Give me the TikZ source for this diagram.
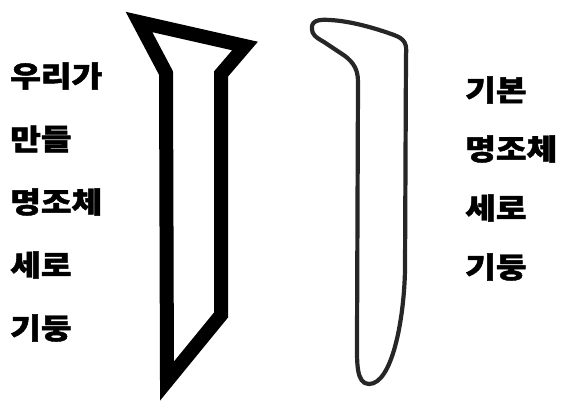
\documentclass[tikz,border=0pt]{standalone}
\usepackage{fontspec}
\newfontfamily\kr{Noto Sans CJK KR}[BoldFeatures={FakeBold=1.5}]
\begin{document}
\begin{tikzpicture}[
		x=1pt, y=-1pt,
		word/.style = {anchor=west, inner sep=0pt, xscale=1.15,% words beside the stems
			font=\kr\bfseries\fontsize{29}{29}\selectfont},
		bold stem/.style = {line width=14pt, line join=miter, miter limit=20},
		thin stem/.style = {line width=4.2pt, draw=black!85, line join=round},
		]
		\useasboundingbox (0,0) rectangle (562,405);
		\foreach \w [count=\i] in {우리가,만들,명조체,세로,기둥}
		\node[word] (L\i) at (10, 13+63*\i) {\w};
		\foreach \w [count=\i] in {기본,명조체,세로,기둥}
		\node[word] (R\i) at (465, 31+59*\i) {\w};
		% our stem
		\draw[bold stem] (139,22) -- (245,46) -- (221,74) -- (221,315)
			-- (167,381) -- (166,73) -- cycle;
		% basic stem
		\draw[thin stem] (312,29) .. controls (311,21) and (318,19) .. (330,20)
			.. controls (350,21) and (375,28) .. (394,35)
			.. controls (405,39) and (407,44) .. (406,55)
			-- (405,270) .. controls (404,320) and (392,384) .. (369,384)
			.. controls (356,384) and (357,362) .. (357,340)
			-- (358,82) .. controls (358,70) and (354,63) .. (345,56)
			-- (324,42) .. controls (315,37) and (312,34) .. (312,29) -- cycle;
	\end{tikzpicture}
\end{document}
